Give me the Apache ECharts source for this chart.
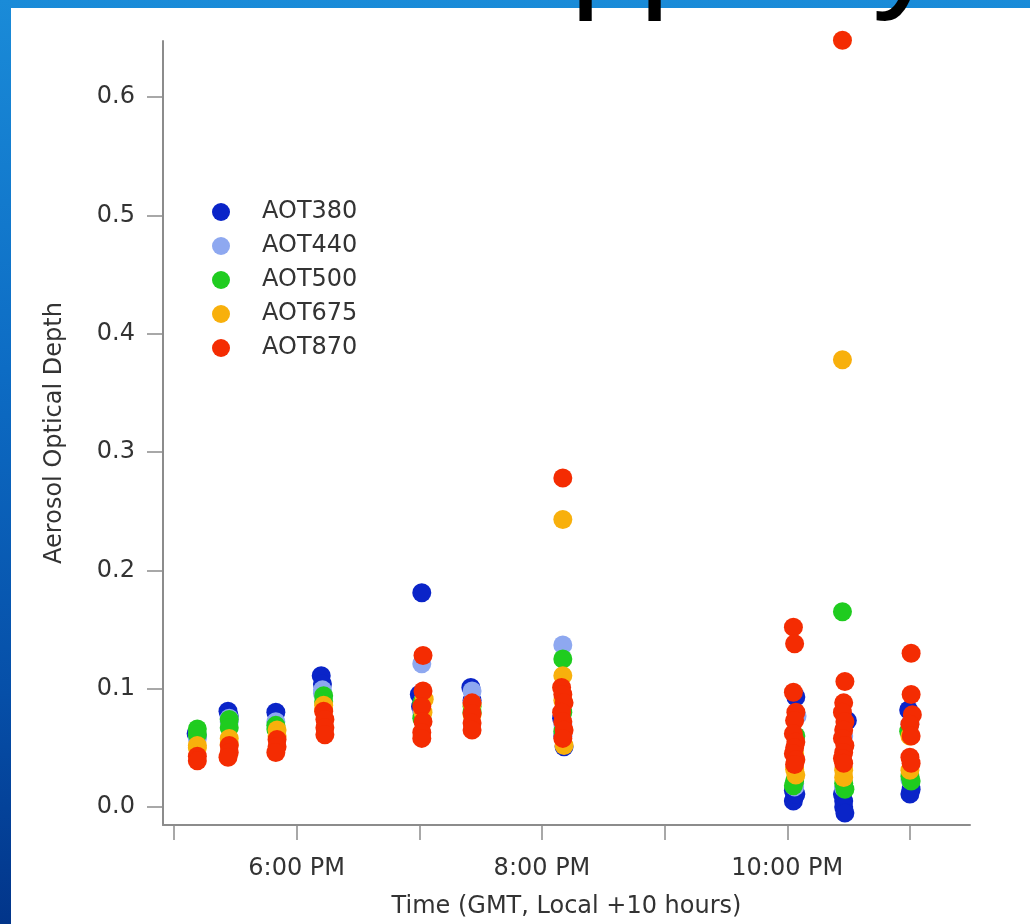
<!DOCTYPE html>
<html>
<head>
<meta charset="utf-8">
<script src="https://cdn.jsdelivr.net/npm/echarts@6/dist/echarts.min.js"></script>
<style>
html,body{margin:0;padding:0;}
body{width:1030px;height:924px;overflow:hidden;
 background:linear-gradient(to bottom,#1a8bd8 0%,#0d6cc4 40%,#064fa8 75%,#02358a 100%);}
#chart{width:1030px;height:924px;}
</style>
</head>
<body>
<div id="chart"></div>
<script>
// Series: [time in decimal hours GMT, aerosol optical depth]
const seriesNames = ['AOT380','AOT440','AOT500','AOT675','AOT870'];
const seriesColors = ['#0a24c8','#8ea8f0','#1fcc1f','#f8b00c','#f42c02'];

const aot380 = [
 [17.18,0.062],[17.19,0.060],
 [17.44,0.081],[17.45,0.077],
 [17.83,0.080],
 [18.20,0.111],[18.21,0.104],
 [19.02,0.181],[19.00,0.095],[19.01,0.085],
 [19.42,0.101],[19.43,0.090],
 [20.18,0.051],[20.17,0.060],[20.16,0.075],
 [22.07,0.093],[22.05,0.014],[22.06,0.009],[22.05,0.005],[22.07,0.011],
 [22.49,0.073],[22.45,0.011],[22.46,0.005],[22.46,0.000],[22.47,-0.005],
 [22.99,0.082],[23.01,0.015],[23.00,0.011]
];
const aot440 = [
 [17.19,0.061],[17.19,0.058],
 [17.45,0.075],[17.45,0.072],
 [17.83,0.072],
 [18.21,0.099],[18.21,0.096],
 [19.02,0.121],[19.03,0.090],[19.02,0.080],
 [19.43,0.098],[19.43,0.088],
 [20.17,0.137],[20.17,0.070],[20.17,0.062],
 [22.08,0.077],[22.06,0.020],[22.06,0.017],
 [22.46,0.060],[22.46,0.017],[22.46,0.016],
 [23.00,0.070],[23.00,0.023]
];
const aot500 = [
 [17.19,0.066],[17.19,0.061],
 [17.45,0.074],[17.45,0.067],
 [17.83,0.069],[17.83,0.066],
 [18.22,0.094],[18.22,0.089],
 [19.02,0.088],[19.02,0.075],
 [19.43,0.085],[19.43,0.080],
 [20.17,0.125],[20.17,0.080],[20.17,0.064],
 [22.07,0.060],[22.06,0.022],[22.05,0.018],
 [22.45,0.165],[22.46,0.020],[22.47,0.015],
 [22.99,0.064],[23.00,0.026],[23.01,0.022]
];
const aot675 = [
 [17.19,0.052],[17.19,0.050],
 [17.45,0.058],[17.45,0.053],
 [17.84,0.065],[17.84,0.060],
 [18.22,0.086],[18.22,0.082],
 [19.04,0.091],[19.03,0.080],
 [19.43,0.087],[19.43,0.078],
 [20.17,0.243],[20.17,0.111],[20.17,0.090],[20.18,0.052],
 [22.06,0.045],[22.06,0.032],[22.07,0.027],
 [22.45,0.378],[22.46,0.031],[22.46,0.025],
 [23.00,0.060],[23.00,0.031]
];
const aot870 = [
 [17.19,0.043],[17.19,0.039],
 [17.45,0.052],[17.45,0.046],[17.44,0.042],
 [17.84,0.057],[17.84,0.051],[17.83,0.046],
 [18.22,0.081],[18.23,0.074],[18.23,0.067],[18.23,0.061],
 [19.03,0.128],[19.03,0.098],[19.02,0.085],[19.03,0.072],[19.02,0.063],[19.02,0.058],
 [19.43,0.088],[19.43,0.079],[19.43,0.071],[19.43,0.065],
 [20.17,0.278],[20.16,0.101],[20.17,0.095],[20.18,0.088],[20.16,0.080],[20.17,0.072],[20.18,0.065],[20.17,0.058],
 [22.05,0.152],[22.06,0.138],[22.05,0.097],[22.07,0.080],[22.06,0.073],[22.05,0.062],[22.07,0.055],[22.06,0.050],[22.05,0.045],[22.07,0.040],[22.06,0.036],
 [22.45,0.648],[22.47,0.106],[22.46,0.088],[22.45,0.080],[22.47,0.072],[22.46,0.065],[22.45,0.058],[22.47,0.052],[22.46,0.046],[22.45,0.041],[22.46,0.037],
 [23.01,0.130],[23.01,0.095],[23.02,0.078],[23.00,0.070],[23.01,0.060],[23.00,0.042],[23.01,0.037]
];
const seriesData = [aot380, aot440, aot500, aot675, aot870];

const xTicks = [17,18,19,20,21,22,23];
const xLabelValues = [18,20,22];
const yTicks = [0,0.1,0.2,0.3,0.4,0.5,0.6];

const FONT = 'DejaVu Sans';
const axisColor = '#8c8c8c';
const textColor = '#333333';

function fmtTime(v){
  let h = Math.round(v);
  const ampm = h >= 12 ? 'PM' : 'AM';
  let h12 = h % 12; if (h12 === 0) h12 = 12;
  return h12 + ':00 ' + ampm;
}

const titleFont = '140px "Liberation Sans"';
const chart = echarts.init(document.getElementById('chart'), null, {renderer:'canvas'});
chart.setOption({
  animation: false,
  graphic: [
    {type:'rect', z:-10, shape:{x:11, y:8, width:1019, height:916}, style:{fill:'#ffffff'}},
    {type:'text', z:100, style:{text:'p', x:570, y:-47, font:titleFont, fill:'#000000', verticalAlign:'middle'}},
    {type:'text', z:100, style:{text:'p', x:639, y:-47, font:titleFont, fill:'#000000', verticalAlign:'middle'}},
    {type:'text', z:100, style:{text:'y', x:872, y:-47, font:titleFont, fill:'#000000', verticalAlign:'middle'}}
  ],
  grid: {left:163, top:41, right:60, bottom:98, containLabel:false},
  legend: {
    orient:'vertical', left:212, top:200, padding:0,
    itemWidth:18, itemHeight:18, itemGap:10, icon:'circle',
    data: seriesNames,
    textStyle:{fontFamily:FONT, fontSize:24, lineHeight:24, color:textColor, padding:[0,0,0,27]}
  },
  xAxis: {
    type:'value', min:16.91, max:23.49,
    name:'Time (GMT, Local +10 hours)', nameLocation:'middle', nameGap:70,
    nameTextStyle:{fontFamily:FONT, fontSize:24, color:textColor},
    axisLine:{show:true, onZero:false, lineStyle:{color:axisColor, width:2}},
    axisTick:{show:true, inside:false, length:15, customValues:xTicks, lineStyle:{color:axisColor, width:1.5}},
    axisLabel:{customValues:xLabelValues, margin:32, fontFamily:FONT, fontSize:24, color:textColor, formatter:fmtTime},
    splitLine:{show:false}
  },
  yAxis: {
    type:'value', min:-0.0152, max:0.6473,
    name:'Aerosol Optical Depth', nameLocation:'middle', nameGap:96, nameRotate:90,
    nameTextStyle:{fontFamily:FONT, fontSize:24, color:textColor},
    axisLine:{show:true, onZero:false, lineStyle:{color:axisColor, width:2}},
    axisTick:{show:true, inside:false, length:16, customValues:yTicks, lineStyle:{color:axisColor, width:1.5}},
    axisLabel:{customValues:yTicks, margin:28, fontFamily:FONT, fontSize:24, color:textColor, formatter:function(v){return v.toFixed(1);}},
    splitLine:{show:false}
  },
  series: seriesNames.map(function(n,i){
    return {
      type:'scatter', name:n, data:seriesData[i], symbol:'circle', symbolSize:19, clip:false,
      itemStyle:{color:seriesColors[i], opacity:1},
      emphasis:{disabled:true}
    };
  })
});
</script>
</body>
</html>
